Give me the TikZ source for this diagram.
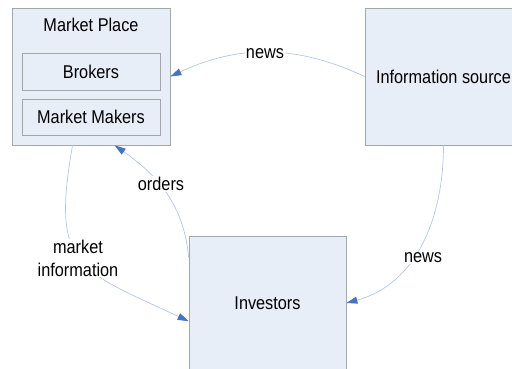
\documentclass[tikz,border=0pt]{standalone}
\usepackage{fontspec}
\setmainfont{Liberation Sans}[FakeStretch=0.88]
\usetikzlibrary{arrows.meta,positioning}
\definecolor{boxfill}{HTML}{E8EEF8}
\definecolor{boxline}{HTML}{A6A6A6}
\definecolor{arcline}{HTML}{B4C7E7}
\definecolor{tipblue}{HTML}{4472C4}
\begin{document}
\begin{tikzpicture}[x=1pt,y=1pt,
  font=\fontsize{18.5}{23}\selectfont,
  box/.style={draw=boxline,fill=boxfill,line width=0.8pt,inner sep=0pt},
  lbl/.style={fill=white,inner sep=1pt,align=center},
  arc/.style={draw=arcline,line width=0.7pt,-{Triangle[length=11pt,width=7pt,color=tipblue]}}]
\useasboundingbox (0,0) rectangle (512,369);
\node[box,minimum width=158pt,minimum height=137pt] (mp) at (91,292.5) {};
\node (mptitle) at (91,344) {Market Place};
\node[box,minimum width=138pt,minimum height=37pt] (brk) at (91,297.5) {Brokers};
\node[box,minimum width=138pt,minimum height=36pt] (mm) at (91,252) {Market Makers};
\node[box,minimum width=157pt,minimum height=137pt] (info) at (443.5,292.5) {Information source};
\node[box,minimum width=157pt,minimum height=134pt] (inv) at (267.5,66) {Investors};
\draw[arc] (info.west) to[bend right=25] (mp.east);
\draw[arc] (inv.150) to[out=95,in=-35] (mp.-71);
\draw[arc] (mp.-105) to[out=-100,in=155,looseness=1.5] (inv.-167);
\draw[arc] (info.south) to[out=-90,in=15] (inv.east);
\node[lbl] (newstop) at (265,315) {news};
\node[lbl] (orders) at (161,185) {orders};
\node[lbl] (mktinfo) at (78,111) {market\\information};
\node[lbl] (newsright) at (423,111) {news};
\end{tikzpicture}
\end{document}
